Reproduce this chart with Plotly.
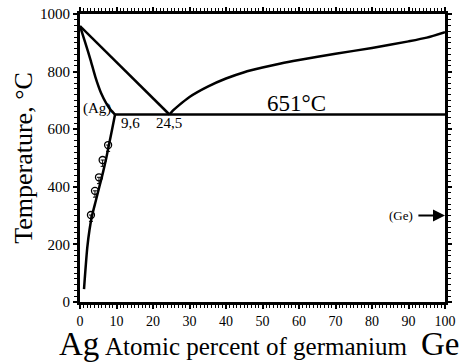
import plotly.graph_objects as go

# Liquidus from Ag side (straight)
liq_ag_x = [0, 24.5]
liq_ag_t = [958, 651]
# Liquidus from Ge side
liq_ge_x = [24.5, 25.5, 27, 30, 35, 40, 45, 50, 55, 60, 70, 80, 90, 95, 100]
liq_ge_t = [651, 665, 682, 712, 748, 776, 798, 814, 828, 840, 862, 882, 905, 918, 937]
# Solidus of (Ag)
sol_x = [0, 1.5, 2.9, 4.2, 5.8, 7.2, 8.4, 9.6]
sol_t = [958, 898, 840, 782, 725, 690, 667, 651]
# Solvus of (Ag)
solv_x = [9.6, 8.8, 8.0, 7.2, 6.3, 5.3, 4.3, 3.3, 2.6, 2.0, 1.6, 1.3, 1.1]
solv_t = [651, 600, 550, 500, 450, 400, 350, 300, 250, 190, 130, 80, 45]
# Eutectic isotherm
eut_x = [9.6, 100]
eut_t = [651, 651]
# Experimental points
pts_x = [3.0, 4.1, 5.2, 6.2, 7.7]
pts_t = [302, 386, 433, 493, 545]

serif = "Liberation Serif, Times New Roman, serif"
fig = go.Figure()
for xs, ts in [(liq_ag_x, liq_ag_t), (liq_ge_x, liq_ge_t), (sol_x, sol_t), (solv_x, solv_t), (eut_x, eut_t)]:
    fig.add_trace(go.Scatter(x=xs, y=ts, mode="lines",
                             line=dict(color="black", width=2.5, shape="spline", smoothing=0.6),
                             showlegend=False, hoverinfo="skip"))
fig.add_trace(go.Scatter(
    x=pts_x, y=pts_t, mode="markers", showlegend=False, hoverinfo="skip",
    marker=dict(symbol="circle-open", size=7, color="black", line=dict(width=1.3)),
    error_y=dict(type="data", symmetric=False, array=[0]*5, arrayminus=[22]*5,
                 color="black", thickness=1, width=2)))

axis_common = dict(showgrid=False, zeroline=False, showline=True, linecolor="black", linewidth=3,
                   mirror="ticks", ticks="outside", ticklen=4, tickwidth=2, tickcolor="black",
                   automargin=False)
fig.update_xaxes(range=[0, 100], tickvals=list(range(0, 101, 10)),
                 minor=dict(dtick=1, ticks="outside", ticklen=3, tickwidth=1, tickcolor="black"),
                 tickfont=dict(family=serif, size=14, color="black"), **axis_common)
fig.update_yaxes(range=[0, 1000], tickvals=list(range(0, 1001, 200)),
                 minor=dict(dtick=20, ticks="outside", ticklen=3, tickwidth=1, tickcolor="black"),
                 tickfont=dict(family=serif, size=15, color="black"),
                 title=dict(text="Temperature, °C", font=dict(family=serif, size=26, color="black"), standoff=0),
                 **axis_common)

ann = []
def a(x, y, text, size, xref="x", yref="y", xanchor="center", yanchor="middle"):
    ann.append(dict(x=x, y=y, xref=xref, yref=yref, text=text, showarrow=False,
                    font=dict(family=serif, size=size, color="black"), xanchor=xanchor, yanchor=yanchor))
a(9.0, 672, "(Ag)", 15, xanchor="right")
a(10.6, 622, "9,6", 15, xanchor="left")
a(24.5, 622, "24,5", 15)
a(59.3, 690, "651°C", 23)
a(-0.062, -0.147, "Ag", 33, xref="paper", yref="paper", xanchor="left")
a(0.063, -0.155, "Atomic percent of germanium", 25, xref="paper", yref="paper", xanchor="left")
a(1.045, -0.147, "Ge", 33, xref="paper", yref="paper", xanchor="right")
a(91.8, 300, "(Ge)", 13, xanchor="right")
fig.update_layout(annotations=ann)
fig.add_annotation(x=100, y=300, ax=92.3, ay=300, xref="x", yref="y", axref="x", ayref="y",
                   text="", showarrow=True, arrowhead=2, arrowsize=1.2, arrowwidth=2, arrowcolor="black")

fig.update_layout(width=467, height=363, margin=dict(l=80, r=22, t=14, b=61),
                  font=dict(family=serif, color="black"),
                  plot_bgcolor="white", paper_bgcolor="white")
fig.write_html("out.html", config={"displayModeBar": False},
               post_script="document.body.style.margin='0';")
